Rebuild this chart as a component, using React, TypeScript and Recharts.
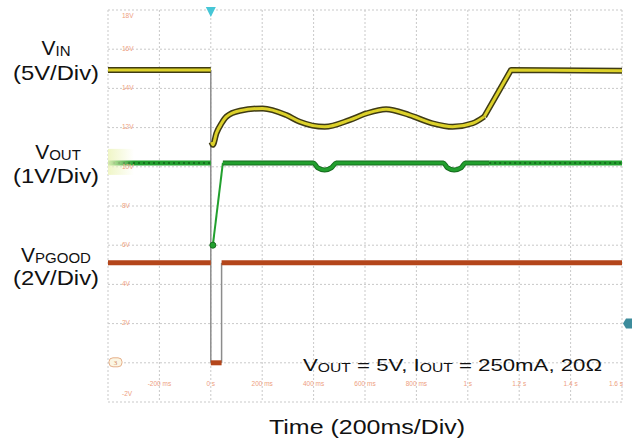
import { ComposedChart, Line, XAxis, YAxis, CartesianGrid, ReferenceDot } from "recharts"

// time in ms, trace level in screen divisions (0 = bottom gridline, 10 = top)
const timeTicks = [-400, -200, 0, 200, 400, 600, 800, 1000, 1200, 1400, 1600]
const divTicks = [0, 1, 2, 3, 4, 5, 6, 7, 8, 9, 10]
const voltLabels = ["-2V", "", "2V", "4V", "6V", "8V", "10V", "12V", "14V", "16V", "18V"]

// VIN (yellow)
const vinPreT = [-400, 0]
const vinPreV = [8.47, 8.47]
const vinWaveT = [3, 8, 22, 42, 61, 113, 202, 294, 346, 443, 539, 605, 682, 773, 862, 941, 1019, 1064]
const vinWaveV = [6.63, 6.56, 6.86, 7.11, 7.28, 7.43, 7.49, 7.32, 7.15, 7.02, 7.19, 7.36, 7.47, 7.32, 7.11, 7.02, 7.11, 7.28]
const vinRampT = [1064, 1168, 1600]
const vinRampV = [7.28, 8.47, 8.45]

// VOUT (green)
const voutPreT = [-400, 0]
const voutPreV = [6.1, 6.1]
const voutRiseT = [8, 47]
const voutRiseV = [4.0, 6.1]
const voutPostT = [47, 400, 415, 443, 470, 488, 905, 920, 947, 975, 990, 1083]
const voutPostV = [6.1, 6.1, 5.98, 5.92, 5.98, 6.1, 6.1, 5.98, 5.92, 5.98, 6.1, 6.1]
const voutTailT = [1083, 1600]
const voutTailV = [6.1, 6.1]

// PGOOD (brown)
const pgPreT = [-400, 0]
const pgPreV = [3.55, 3.55]
const pgLowT = [0, 42]
const pgLowV = [1.0, 1.0]
const pgPostT = [42, 1600]
const pgPostV = [3.55, 3.55]

// thin grey transition edges
const edge1T = [0, 0]
const edge1V = [8.47, 1.0]
const edge2T = [42, 42]
const edge2V = [1.0, 3.55]

const pts = (t: number[], v: number[]) => t.map((x, i) => ({ t: x, v: v[i] }))

const YEL = "#dcd12a"
const YEL_DARK = "#3f3b14"
const GRN = "#22a02e"
const GRN_DARK = "#176d1f"
const BRN = "#b4461b"
const EDGE = "#8c8c8c"
const TICK = "#eea080"

const XTick = (props: any) => {
  const { x, y, payload } = props
  const t = payload.value
  if (t <= -400) return null
  const label = t === 0 ? "0 s" : Math.abs(t) < 1000 ? `${t} ms` : `${t / 1000} s`
  return (
    <text x={x} y={y - 8} textAnchor="middle" fontSize={6.5} fill={TICK} fontFamily="Liberation Sans">
      {label}
    </text>
  )
}

const YTick = (props: any) => {
  const { x, y, payload } = props
  const label = voltLabels[payload.value]
  if (!label) return null
  const yy = payload.value === 10 ? y + 6 : payload.value === 0 ? y - 8 : y
  return (
    <text x={x + 6} y={yy} dominantBaseline="middle" textAnchor="start" fontSize={6.5} fill={TICK} fontFamily="Liberation Sans">
      {label}
    </text>
  )
}

export default function App() {
  const font = "'Liberation Sans', Arial, sans-serif"
  return (
    <div style={{ position: "absolute", left: 0, top: 0, width: 632, height: 442, background: "#fff" }}>
      <ComposedChart width={632} height={442} margin={{ top: 10, right: 10, left: 108, bottom: 40 }}>
        <defs>
          <linearGradient id="ch2fade" x1="0" y1="0" x2="1" y2="0">
            <stop offset="0%" stopColor="#eef5c0" stopOpacity={0.9} />
            <stop offset="100%" stopColor="#eef5c0" stopOpacity={0} />
          </linearGradient>
        </defs>
        <CartesianGrid stroke="#c9c9c9" strokeDasharray="2 2" />
        <XAxis
          type="number"
          dataKey="t"
          domain={[-400, 1600]}
          ticks={timeTicks}
          mirror
          axisLine={false}
          tickLine={false}
          tick={<XTick />}
          allowDataOverflow
        />
        <YAxis
          type="number"
          dataKey="v"
          domain={[0, 10]}
          ticks={divTicks}
          mirror
          axisLine={false}
          tickLine={false}
          tick={<YTick />}
          allowDataOverflow
        />

        <ReferenceDot
          x={-400}
          y={6.1}
          ifOverflow="visible"
          shape={(p: any) => <rect x={p.cx} y={p.cy - 14} width={26} height={26} fill="url(#ch2fade)" />}
        />

        {/* transition edges */}
        <Line data={pts(edge1T, edge1V)} dataKey="v" stroke={EDGE} strokeWidth={1.5} dot={false} isAnimationActive={false} />
        <Line data={pts(edge2T, edge2V)} dataKey="v" stroke={EDGE} strokeWidth={1.5} dot={false} isAnimationActive={false} />

        {/* PGOOD */}
        <Line data={pts(pgPreT, pgPreV)} dataKey="v" stroke={BRN} strokeWidth={5} dot={false} isAnimationActive={false} />
        <Line data={pts(pgLowT, pgLowV)} dataKey="v" stroke={BRN} strokeWidth={5} dot={false} isAnimationActive={false} />
        <Line data={pts(pgPostT, pgPostV)} dataKey="v" stroke={BRN} strokeWidth={5} dot={false} isAnimationActive={false} />

        {/* VOUT */}
        <Line data={pts(voutPreT, voutPreV)} dataKey="v" stroke={GRN} strokeWidth={5} dot={false} isAnimationActive={false} />
        <Line data={pts(voutPreT, voutPreV)} dataKey="v" stroke={GRN_DARK} strokeWidth={2} strokeDasharray="2 3" dot={false} isAnimationActive={false} />
        <Line data={pts(voutRiseT, voutRiseV)} dataKey="v" stroke={GRN} strokeWidth={2} dot={false} isAnimationActive={false} />
        <Line data={pts(voutPostT, voutPostV)} type="monotone" dataKey="v" stroke={GRN_DARK} strokeWidth={5} dot={false} isAnimationActive={false} />
        <Line data={pts(voutPostT, voutPostV)} type="monotone" dataKey="v" stroke={GRN} strokeWidth={3} dot={false} isAnimationActive={false} />
        <Line data={pts(voutTailT, voutTailV)} dataKey="v" stroke={GRN} strokeWidth={5} dot={false} isAnimationActive={false} />
        <Line data={pts(voutTailT, voutTailV)} dataKey="v" stroke={GRN_DARK} strokeWidth={2} strokeDasharray="2 3" dot={false} isAnimationActive={false} />
        <ReferenceDot x={voutRiseT[0]} y={voutRiseV[0]} r={3} fill={GRN} stroke={GRN_DARK} strokeWidth={1} ifOverflow="visible" />

        {/* VIN */}
        <Line data={pts(vinPreT, vinPreV)} dataKey="v" stroke={YEL_DARK} strokeWidth={6} dot={false} isAnimationActive={false} />
        <Line data={pts(vinPreT, vinPreV)} dataKey="v" stroke={YEL} strokeWidth={3} dot={false} isAnimationActive={false} />
        <Line data={pts(vinWaveT, vinWaveV)} type="monotone" dataKey="v" stroke={YEL_DARK} strokeWidth={6} dot={false} isAnimationActive={false} />
        <Line data={pts(vinWaveT, vinWaveV)} type="monotone" dataKey="v" stroke={YEL} strokeWidth={3} dot={false} isAnimationActive={false} />
        <Line data={pts(vinRampT, vinRampV)} dataKey="v" stroke={YEL_DARK} strokeWidth={6} strokeLinejoin="round" dot={false} isAnimationActive={false} />
        <Line data={pts(vinRampT, vinRampV)} dataKey="v" stroke={YEL} strokeWidth={3} strokeLinejoin="round" dot={false} isAnimationActive={false} />

        {/* scope markers */}
        <ReferenceDot
          x={0}
          y={10}
          ifOverflow="visible"
          shape={(p: any) => (
            <polygon points={`${p.cx - 5},${p.cy - 3} ${p.cx + 5},${p.cy - 3} ${p.cx},${p.cy + 7}`} fill="#46c6d6" />
          )}
        />
        <ReferenceDot
          x={1600}
          y={2}
          ifOverflow="visible"
          shape={(p: any) => (
            <polygon
              points={`${p.cx + 1},${p.cy} ${p.cx + 4},${p.cy - 5} ${p.cx + 10},${p.cy - 5} ${p.cx + 10},${p.cy + 5} ${p.cx + 4},${p.cy + 5}`}
              fill="#3d8c9c"
            />
          )}
        />
        <ReferenceDot
          x={-400}
          y={1}
          ifOverflow="visible"
          shape={(p: any) => (
            <g>
              <rect x={p.cx + 1} y={p.cy - 5} width={13} height={9} rx={4} fill="#fbf6e4" stroke="#e6b08a" strokeWidth={1} />
              <text x={p.cx + 7.5} y={p.cy + 2.5} textAnchor="middle" fontSize={7} fill="#d08a60">3</text>
            </g>
          )}
        />
      </ComposedChart>

      <svg width={632} height={442} style={{ position: "absolute", left: 0, top: 0, pointerEvents: "none" }} fontFamily={font} fill="#111">
        <text x={56} y={55} textAnchor="middle" fontSize={21}>
          V<tspan fontSize={15} dy={1}>IN</tspan>
        </text>
        <text x={56} y={80} textAnchor="middle" fontSize={21} textLength={86} lengthAdjust="spacingAndGlyphs">(5V/Div)</text>
        <text x={58} y={159} textAnchor="middle" fontSize={21}>
          V<tspan fontSize={15} dy={1}>OUT</tspan>
        </text>
        <text x={56} y={183} textAnchor="middle" fontSize={21} textLength={86} lengthAdjust="spacingAndGlyphs">(1V/Div)</text>
        <text x={56} y={262} textAnchor="middle" fontSize={21}>
          V<tspan fontSize={15} dy={1}>PGOOD</tspan>
        </text>
        <text x={56} y={285} textAnchor="middle" fontSize={21} textLength={86} lengthAdjust="spacingAndGlyphs">(2V/Div)</text>

        <text x={303} y={371} fontSize={17} textLength={299} lengthAdjust="spacingAndGlyphs">
          V<tspan fontSize={12} dy={1}>OUT</tspan>
          <tspan dy={-1}> = 5V, I</tspan>
          <tspan fontSize={12} dy={1}>OUT</tspan>
          <tspan dy={-1}> = 250mA, 20Ω</tspan>
        </text>

        <text x={367} y={434} textAnchor="middle" fontSize={21} textLength={196} lengthAdjust="spacingAndGlyphs">
          Time  (200ms/Div)
        </text>
      </svg>
    </div>
  )
}
